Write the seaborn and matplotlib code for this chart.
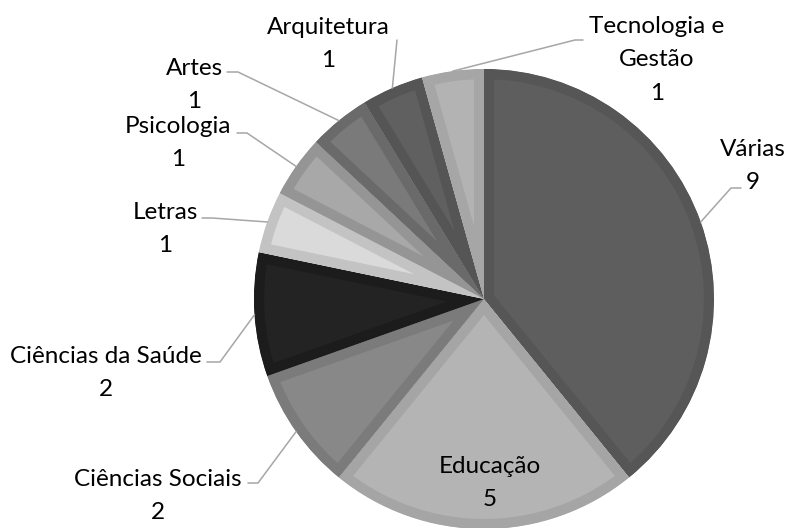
import matplotlib
matplotlib.use("Agg")
import matplotlib.pyplot as plt
import numpy as np
import seaborn as sns

# areas, clockwise from 12 o'clock
labels = ["Várias", "Educação", "Ciências Sociais", "Ciências da Saúde", "Letras",
          "Psicologia", "Artes", "Arquitetura", "Tecnologia e\nGestão"]
counts = [9, 5, 2, 2, 1, 1, 1, 1, 1]
fills = ["#5e5e5e", "#b4b4b4", "#888888", "#232323", "#dadada",
         "#a8a8a8", "#7a7a7a", "#606060", "#b3b3b3"]
edges = ["#565656", "#a5a5a5", "#7b7b7b", "#1c1c1c", "#c3c3c3",
         "#959595", "#6a6a6a", "#555555", "#a6a6a6"]

# label block centre (px, from top) and leader elbow / end (None = label inside)
label_pos = [(753, 166), (490, 483), (158, 496), (106, 373), (165, 229),
             (178, 143), (194, 85), (328, 44), (657, 60)]
elbows = [((731, 188), (741, 188)), None, ((258, 483), (248, 483)),
          ((220, 362), (207, 362)), ((212, 218), (202, 218)),
          ((247, 133), (237, 133)), ((238, 72), (227, 72)),
          ((397, 40), (397, 40)), ((575, 40), (583, 40))]

W, H = 788, 528
cx, cy, r = 484, 299, 230

sns.set_style("white")
plt.rcParams["font.family"] = ["Lato", "DejaVu Sans"]

fig = plt.figure(figsize=(W / 100, H / 100), dpi=100)
ax = fig.add_axes([0, 0, 1, 1])

wedges, _ = ax.pie(counts, colors=fills, startangle=90, counterclock=False,
                   center=(cx, H - cy), radius=r,
                   wedgeprops=dict(linewidth=14.5, antialiased=True))
# border drawn only on the inside of each slice
for w, ec in zip(wedges, edges):
    w.set_edgecolor(ec)
    w.set_joinstyle("miter")
    w.set_clip_on(True)
    w.set_clip_path(w)

total = sum(counts)
cum = np.cumsum([0] + counts)
for i, (lab, n) in enumerate(zip(labels, counts)):
    tx, ty = label_pos[i]
    ax.text(tx, H - ty, f"{lab}\n{n}", ha="center", va="center",
            fontsize=17.5, color="#000000", linespacing=1.72)
    if elbows[i] is None:
        continue
    mid = 90 - (cum[i] + n / 2) / total * 360
    ax_x = cx + r * np.cos(np.radians(mid))
    ax_y = H - cy + r * np.sin(np.radians(mid))
    (ex, ey), (fx, fy) = elbows[i]
    ax.plot([ax_x, ex, fx], [ax_y, H - ey, H - fy], color="#a6a6a6",
            lw=1.1, solid_joinstyle="miter")

ax.set_xlim(0, W)
ax.set_ylim(0, H)
ax.set_aspect("equal")
ax.axis("off")
fig.savefig("out.png", dpi=100, facecolor="white")
